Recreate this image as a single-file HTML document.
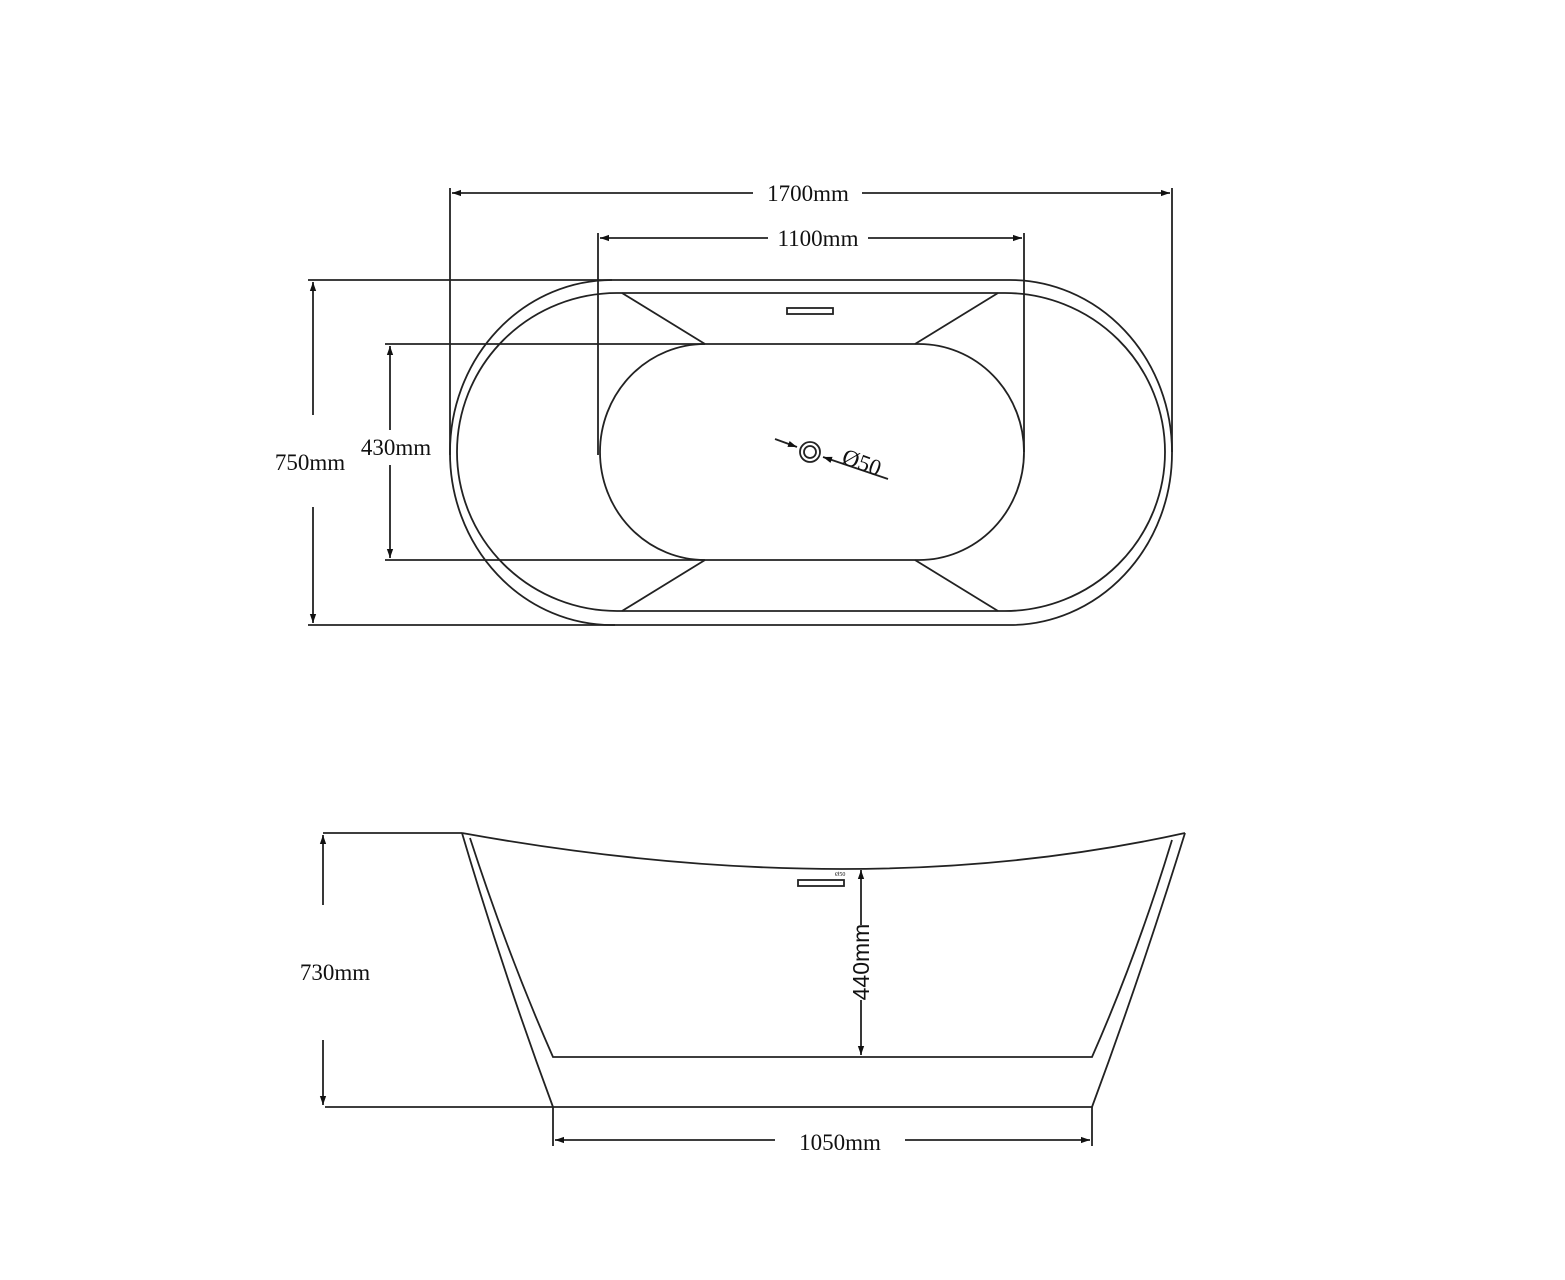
<!DOCTYPE html>
<html><head><meta charset="utf-8"><style>
html,body{margin:0;padding:0;background:#fff}
svg{display:block}
text{font-family:"Liberation Serif",serif;font-size:23px;fill:#111}
</style></head><body>
<svg width="1565" height="1280" viewBox="0 0 1565 1280" xmlns="http://www.w3.org/2000/svg">
<defs>
<marker id="a" viewBox="0 0 10 10" refX="10" refY="5" markerWidth="16" markerHeight="9" orient="auto-start-reverse" markerUnits="userSpaceOnUse"><path d="M0,1.5 L10,5 L0,8.5 z" fill="#111"/></marker>
</defs>
<g stroke="#222" stroke-width="1.8" fill="none">
<rect x="450" y="280" width="722" height="345" rx="162" ry="172"/>
<rect x="457" y="293" width="708" height="318" rx="160" ry="159"/>
<rect x="600" y="344" width="424" height="216" rx="105" ry="108"/>
<line x1="622" y1="293" x2="705" y2="344"/>
<line x1="998" y1="293" x2="915" y2="344"/>
<line x1="622" y1="611" x2="705" y2="560"/>
<line x1="998" y1="611" x2="915" y2="560"/>
<rect x="787" y="308" width="46" height="6"/>
<circle cx="810" cy="452" r="10"/>
<circle cx="810" cy="452" r="6"/>
<line x1="775" y1="439" x2="797" y2="447" marker-end="url(#a)"/>
<line x1="888" y1="479" x2="823" y2="457" marker-end="url(#a)"/>
<line x1="450" y1="188" x2="450" y2="455"/>
<line x1="1172" y1="188" x2="1172" y2="452"/>
<line x1="598" y1="233" x2="598" y2="455"/>
<line x1="1024" y1="233" x2="1024" y2="452"/>
<line x1="308" y1="280" x2="612" y2="280"/>
<line x1="308" y1="625" x2="615" y2="625"/>
<line x1="385" y1="344" x2="705" y2="344"/>
<line x1="385" y1="560" x2="705" y2="560"/>
<line x1="753" y1="193" x2="452" y2="193" marker-end="url(#a)"/>
<line x1="862" y1="193" x2="1170" y2="193" marker-end="url(#a)"/>
<line x1="768" y1="238" x2="600" y2="238" marker-end="url(#a)"/>
<line x1="868" y1="238" x2="1022" y2="238" marker-end="url(#a)"/>
<line x1="313" y1="415" x2="313" y2="282" marker-end="url(#a)"/>
<line x1="313" y1="507" x2="313" y2="623" marker-end="url(#a)"/>
<line x1="390" y1="430" x2="390" y2="346" marker-end="url(#a)"/>
<line x1="390" y1="465" x2="390" y2="558" marker-end="url(#a)"/>
<line x1="323" y1="833" x2="462" y2="833"/>
<path d="M462,833 Q860,905 1185,833"/>
<path d="M462,833 Q504,975 553,1107 L1092,1107 Q1141,975 1185,833"/>
<path d="M470,838 Q508,955 553,1057 L1092,1057 Q1137,955 1172,840"/>
<line x1="325" y1="1107" x2="553" y2="1107"/>
<rect x="798" y="880" width="46" height="6"/>
<line x1="323" y1="905" x2="323" y2="835" marker-end="url(#a)"/>
<line x1="323" y1="1040" x2="323" y2="1105" marker-end="url(#a)"/>
<line x1="861" y1="925" x2="861" y2="870" marker-end="url(#a)"/>
<line x1="861" y1="1000" x2="861" y2="1055" marker-end="url(#a)"/>
<line x1="553" y1="1107" x2="553" y2="1146"/>
<line x1="1092" y1="1107" x2="1092" y2="1146"/>
<line x1="775" y1="1140" x2="555" y2="1140" marker-end="url(#a)"/>
<line x1="905" y1="1140" x2="1090" y2="1140" marker-end="url(#a)"/>
</g>
<text x="808" y="201" text-anchor="middle">1700mm</text>
<text x="818" y="246" text-anchor="middle">1100mm</text>
<text x="310" y="470" text-anchor="middle">750mm</text>
<text x="396" y="455" text-anchor="middle">430mm</text>
<text x="862" y="470" text-anchor="middle" transform="rotate(20 862 462)">Ø50</text>
<text x="335" y="980" text-anchor="middle">730mm</text>
<text x="840" y="1150" text-anchor="middle">1050mm</text>
<text x="861" y="970" text-anchor="middle" transform="rotate(-90 861 962)" style="font-family:'Liberation Sans',sans-serif">440mm</text>
<text x="835" y="876" style="font-size:6px">Ø50</text>
</svg>
</body></html>
